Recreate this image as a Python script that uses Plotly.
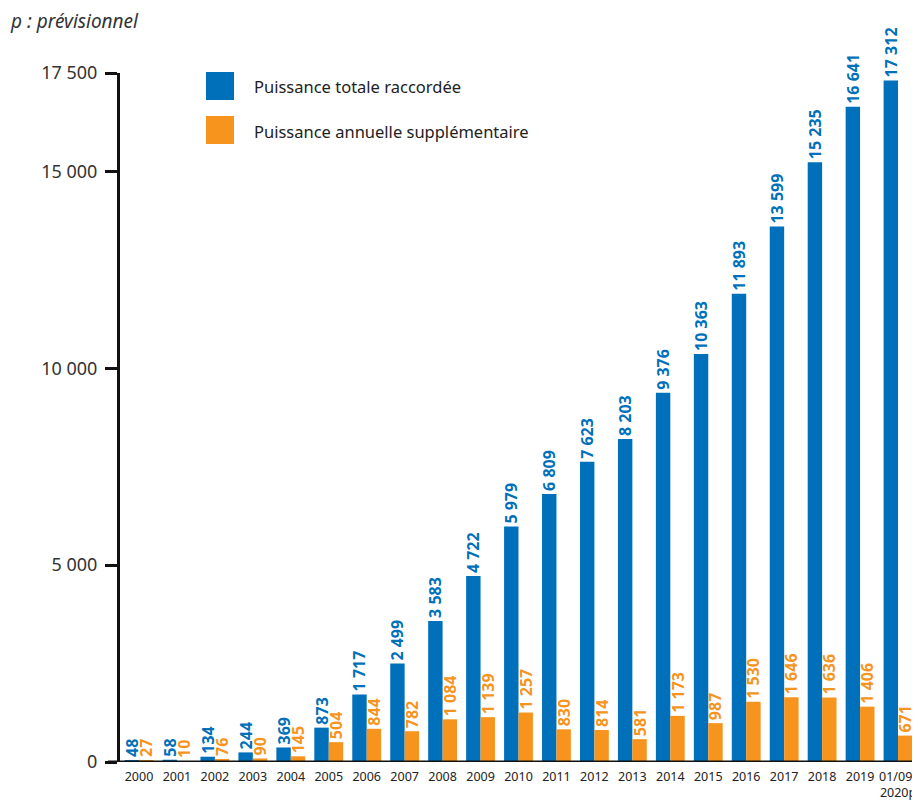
import plotly.graph_objects as go

categories = ["2000", "2001", "2002", "2003", "2004", "2005", "2006", "2007", "2008", "2009",
              "2010", "2011", "2012", "2013", "2014", "2015", "2016", "2017", "2018", "2019",
              "01/09/<br>2020p"]
total = [48, 58, 134, 244, 369, 873, 1717, 2499, 3583, 4722, 5979, 6809, 7623, 8203, 9376,
         10363, 11893, 13599, 15235, 16641, 17312]
annual = [27, 10, 76, 90, 145, 504, 844, 782, 1084, 1139, 1257, 830, 814, 581, 1173, 987,
          1530, 1646, 1636, 1406, 671]
ytickvals = [0, 5000, 10000, 15000, 17500]
yticktext = ["0", "5 000", "10 000", "15 000", "17 500"]
names = ["Puissance totale raccordée", "Puissance annuelle supplémentaire"]

BLUE = "#0070BA"
ORANGE = "#F7941D"
FONT = "Noto Sans"

# page body has an 8px margin: figure is placed at (8, 8)
OFF = 8
W, H = 920 - OFF, 800 - OFF
L, T = 120 - OFF, 73 - OFF
B = (H + OFF) - 762
R = 3
PW, PH = W - L - R, H - T - B


def fmt(v):
    return f"{v:,}".replace(",", " ")


def px_x(x):
    return (x - OFF - L) / PW


def px_y(y):
    return 1 - (y - OFF - T) / PH


fig = go.Figure()
for vals, col, nm in [(total, BLUE, names[0]), (annual, ORANGE, names[1])]:
    fig.add_trace(go.Bar(
        x=categories, y=vals, name=nm, marker=dict(color=col, line=dict(width=0)),
        text=[fmt(v) for v in vals], textposition="outside", textangle=-90,
        textfont=dict(family=FONT, size=16, color=col, weight="bold"),
        cliponaxis=False, constraintext="none", showlegend=False,
    ))

fig.update_layout(
    width=W, height=H,
    margin=dict(l=L, r=R, t=T, b=B, pad=0, autoexpand=False),
    paper_bgcolor="white", plot_bgcolor="white",
    barmode="group", bargap=0.24, bargroupgap=0,
    font=dict(family=FONT, color="#222"),
    xaxis=dict(showgrid=False, showline=False, ticks="", zeroline=False, automargin=False,
               tickfont=dict(family=FONT, size=12.5, color="#222"), ticklabelstandoff=5),
    yaxis=dict(range=[0, 17500], tickvals=ytickvals, ticktext=yticktext, automargin=False,
               showgrid=False, zeroline=False, showline=True, linecolor="#111", linewidth=3,
               ticks="outside", ticklen=12, tickwidth=3, tickcolor="#111",
               tickfont=dict(family=FONT, size=18, color="#333"), ticklabelstandoff=4),
)

# x axis baseline extending beyond the plot
fig.add_shape(type="line", xref="paper", yref="y", x0=px_x(108), x1=px_x(925), y0=0, y1=0,
              line=dict(color="#111", width=3))

# legend drawn manually
for i, (nm, col) in enumerate(zip(names, [BLUE, ORANGE])):
    y0 = 72 + i * 44
    fig.add_shape(type="rect", xref="paper", yref="paper",
                  x0=px_x(206), x1=px_x(234), y0=px_y(y0 + 28), y1=px_y(y0),
                  fillcolor=col, line=dict(width=0))
    fig.add_annotation(xref="paper", yref="paper", x=px_x(252), y=px_y(y0 + 15),
                       text=nm, showarrow=False, xanchor="left", yanchor="middle",
                       font=dict(family=FONT, size=16.5, color="#222"))

fig.add_annotation(xref="paper", yref="paper", x=px_x(8), y=px_y(21),
                   text="<i>p : prévisionnel</i>", showarrow=False, xanchor="left",
                   yanchor="middle", font=dict(family=FONT, size=19, color="#333"))

fig.write_html("out.html")
